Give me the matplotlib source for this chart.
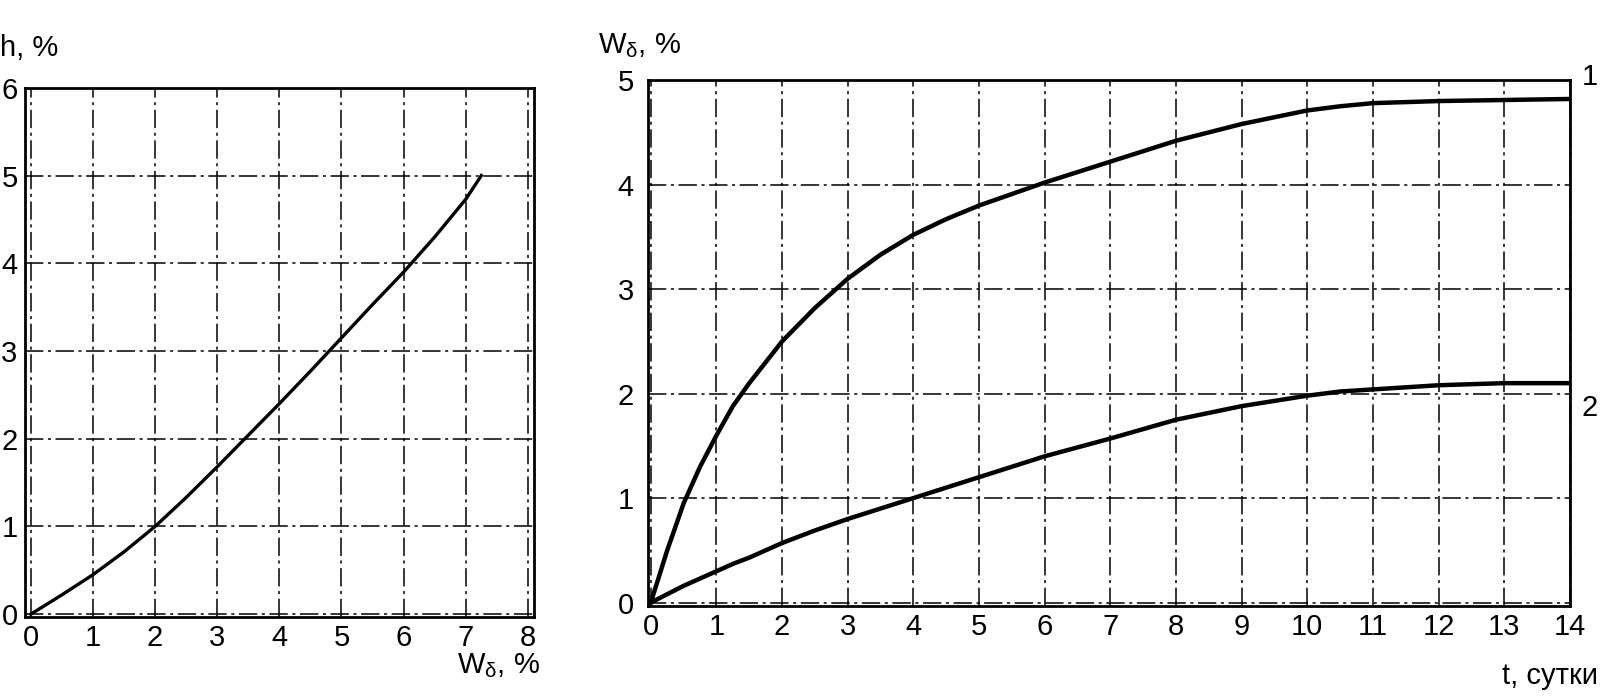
import matplotlib
matplotlib.use('Agg')
from matplotlib import pyplot as plt

plt.rcParams['font.family'] = ['Liberation Sans', 'DejaVu Sans']
plt.rcParams['mathtext.fontset'] = 'custom'
plt.rcParams['mathtext.rm'] = 'Liberation Sans'
plt.rcParams['mathtext.it'] = 'Liberation Sans'

# left chart: h vs W_delta
w_left = [0, 0.5, 1, 1.5, 2, 2.5, 3, 3.5, 4, 4.5, 5, 5.5, 6, 6.5, 7, 7.25]
h_left = [0, 0.22, 0.45, 0.71, 1.0, 1.33, 1.68, 2.04, 2.4, 2.77, 3.15, 3.53, 3.9, 4.3, 4.73, 5.0]

# right chart: W_delta vs t, curves 1 and 2
t_days = [0, 0.25, 0.5, 0.75, 1, 1.25, 1.5, 2, 2.5, 3, 3.5, 4, 4.5, 5, 6, 7, 8, 9, 10, 10.5, 11, 12, 13, 14]
w_curve1 = [0, 0.5, 0.95, 1.3, 1.6, 1.88, 2.1, 2.5, 2.82, 3.1, 3.33, 3.52, 3.67, 3.8, 4.02, 4.22, 4.42, 4.58, 4.71, 4.75, 4.78, 4.8, 4.81, 4.82]
w_curve2 = [0, 0.08, 0.16, 0.23, 0.3, 0.37, 0.43, 0.57, 0.69, 0.8, 0.9, 1.0, 1.1, 1.2, 1.4, 1.57, 1.75, 1.88, 1.98, 2.02, 2.04, 2.08, 2.1, 2.1]

left_xticks = list(range(0, 9))
left_yticks = list(range(0, 7))
right_xticks = list(range(0, 15))
right_yticks = list(range(0, 6))

grid_style = dict(color='black', linewidth=1.1, linestyle=(0, (12, 3, 2, 3)))
FS = 21

def style_axes(ax):
    for s in ax.spines.values():
        s.set_linewidth(2.0)
    ax.tick_params(length=0, labelsize=FS, pad=5)
    ax.grid(True, **grid_style)

def main():
    fig = plt.figure(figsize=(16.04, 6.97), dpi=100)

    ax1 = fig.add_axes([0.0153, 0.115, 0.3177, 0.759])
    ax1.plot(w_left, h_left, color='black', linewidth=2.4, solid_joinstyle='round')
    ax1.set_xlim(-0.1, 8.1)
    ax1.set_ylim(-0.03, 6)
    ax1.set_xticks(left_xticks)
    ax1.set_yticks(left_yticks)
    style_axes(ax1)

    ax2 = fig.add_axes([0.4037, 0.131, 0.575, 0.754])
    ax2.plot(t_days, w_curve1, color='black', linewidth=3.2, solid_joinstyle='round')
    ax2.plot(t_days, w_curve2, color='black', linewidth=3.2, solid_joinstyle='round')
    ax2.set_xlim(-0.05, 14)
    ax2.set_ylim(-0.03, 5)
    ax2.set_xticks(right_xticks)
    ax2.set_yticks(right_yticks)
    style_axes(ax2)
    ax2.tick_params(axis='y', pad=10)

    fig.text(0.0, 0.931, 'h, %', fontsize=FS, va='center', ha='left')
    fig.text(0.285, 0.045, r'W$_{\delta}$, %', fontsize=FS, va='center', ha='left')
    fig.text(0.373, 0.934, r'W$_{\delta}$, %', fontsize=FS, va='center', ha='left')
    fig.text(0.996, 0.03, 't, сутки', fontsize=FS, va='center', ha='right')
    fig.text(0.996, 0.89, '1', fontsize=FS, va='center', ha='right')
    fig.text(0.996, 0.415, '2', fontsize=FS, va='center', ha='right')

    fig.savefig('out.png', dpi=100)

if __name__ == "__main__":
    main()
